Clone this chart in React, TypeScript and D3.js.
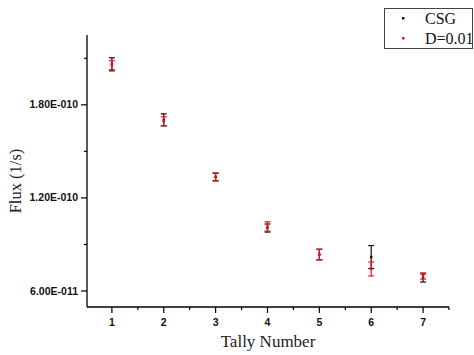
import React from 'react';
import * as d3 from 'd3';

const tally = [1, 2, 3, 4, 5, 6, 7];
const csg = [2.061e-10, 1.703e-10, 1.335e-10, 1.006e-10, 0.835e-10, 0.819e-10, 0.684e-10];
const csgErr = [0.042e-10, 0.039e-10, 0.024e-10, 0.026e-10, 0.034e-10, 0.074e-10, 0.026e-10];
const dval = [2.055e-10, 1.694e-10, 1.335e-10, 1.016e-10, 0.835e-10, 0.742e-10, 0.697e-10];
const dErr = [0.029e-10, 0.029e-10, 0.026e-10, 0.03e-10, 0.035e-10, 0.045e-10, 0.02e-10];
const yTicks = [6e-11, 1.2e-10, 1.8e-10];
const yTickLabels = ['6.00E-011', '1.20E-010', '1.80E-010'];
const yMinor = [9e-11, 1.5e-10, 2.1e-10];
const xMinor = [1.5, 2.5, 3.5, 4.5, 5.5, 6.5, 7.5];

const W = 474;
const H = 355;
const m = {left: 87, right: 25, top: 35, bottom: 48};

const App = () => {
  const x = d3.scaleLinear().domain([0.52, 7.5]).range([m.left, W - m.right]);
  const y = d3.scaleLinear().domain([0.497e-10, 2.25e-10]).range([H - m.bottom, m.top]);
  const x0 = m.left;
  const y0 = H - m.bottom;
  const cap = 3;

  const series = [
    {name: 'CSG', vals: csg, errs: csgErr, color: '#111'},
    {name: 'D=0.01', vals: dval, errs: dErr, color: '#e8141c'},
  ];

  return (
    <div style={{position: 'fixed', left: 0, top: 0}}>
      <svg width={W} height={H} style={{display: 'block', background: '#fff'}}>
        {/* axes */}
        <line x1={x0} x2={x0} y1={m.top} y2={y0} stroke="#000" strokeWidth={1.3} />
        <line x1={x0} x2={W - m.right} y1={y0} y2={y0} stroke="#000" strokeWidth={1.3} />
        {yTicks.map((t, i) => (
          <g key={'yt' + i}>
            <line x1={x0 - 6} x2={x0} y1={y(t)} y2={y(t)} stroke="#000" strokeWidth={1.2} />
            <text x={x0 - 9} y={y(t) + 3.5} textAnchor="end" fontSize={10.5}
              fontFamily="Liberation Sans, Arial, sans-serif" fontWeight="bold" fill="#111">
              {yTickLabels[i]}
            </text>
          </g>
        ))}
        {yMinor.map((t, i) => (
          <line key={'ym' + i} x1={x0 - 3} x2={x0} y1={y(t)} y2={y(t)} stroke="#000" strokeWidth={1.2} />
        ))}
        {tally.map(t => (
          <g key={'xt' + t}>
            <line x1={x(t)} x2={x(t)} y1={y0} y2={y0 + 6} stroke="#000" strokeWidth={1.2} />
            <text x={x(t)} y={y0 + 19} textAnchor="middle" fontSize={10.5}
              fontFamily="Liberation Sans, Arial, sans-serif" fontWeight="bold" fill="#111">
              {t}
            </text>
          </g>
        ))}
        {xMinor.map(t => (
          <line key={'xm' + t} x1={x(t)} x2={x(t)} y1={y0} y2={y0 + 3} stroke="#000" strokeWidth={1.2} />
        ))}

        {/* error bars + points */}
        {series.map(s => (
          <g key={s.name}>
            {tally.map((t, i) => {
              const cx = x(t);
              const top = y(s.vals[i] + s.errs[i]);
              const bot = y(s.vals[i] - s.errs[i]);
              return (
                <g key={i} stroke={s.color} strokeWidth={1.2}>
                  <line x1={cx} x2={cx} y1={top} y2={bot} />
                  <line x1={cx - cap} x2={cx + cap} y1={top} y2={top} />
                  <line x1={cx - cap} x2={cx + cap} y1={bot} y2={bot} />
                  <rect x={cx - 1.2} y={y(s.vals[i]) - 1.2} width={2.4} height={2.4} fill={s.color} stroke="none" />
                </g>
              );
            })}
          </g>
        ))}

        {/* axis titles */}
        <text x={268} y={347} textAnchor="middle" fontSize={17}
          fontFamily="Liberation Serif, Times New Roman, serif" fill="#222">Tally Number</text>
        <text transform="translate(21,181) rotate(-90)" textAnchor="middle" fontSize={16.5}
          fontFamily="Liberation Serif, Times New Roman, serif" fill="#222">Flux (1/s)</text>

        {/* legend */}
        <rect x={384.5} y={8.5} width={88} height={40} fill="#fff" stroke="#444" strokeWidth={1} />
        {series.map((s, i) => (
          <g key={'lg' + i}>
            <rect x={402} y={17 + i * 20} width={2.5} height={2.5} fill={s.color} />
            <text x={425} y={24 + i * 20} fontSize={16}
              fontFamily="Liberation Serif, Times New Roman, serif" fill="#111">{s.name}</text>
          </g>
        ))}
      </svg>
    </div>
  );
};

export default App;
